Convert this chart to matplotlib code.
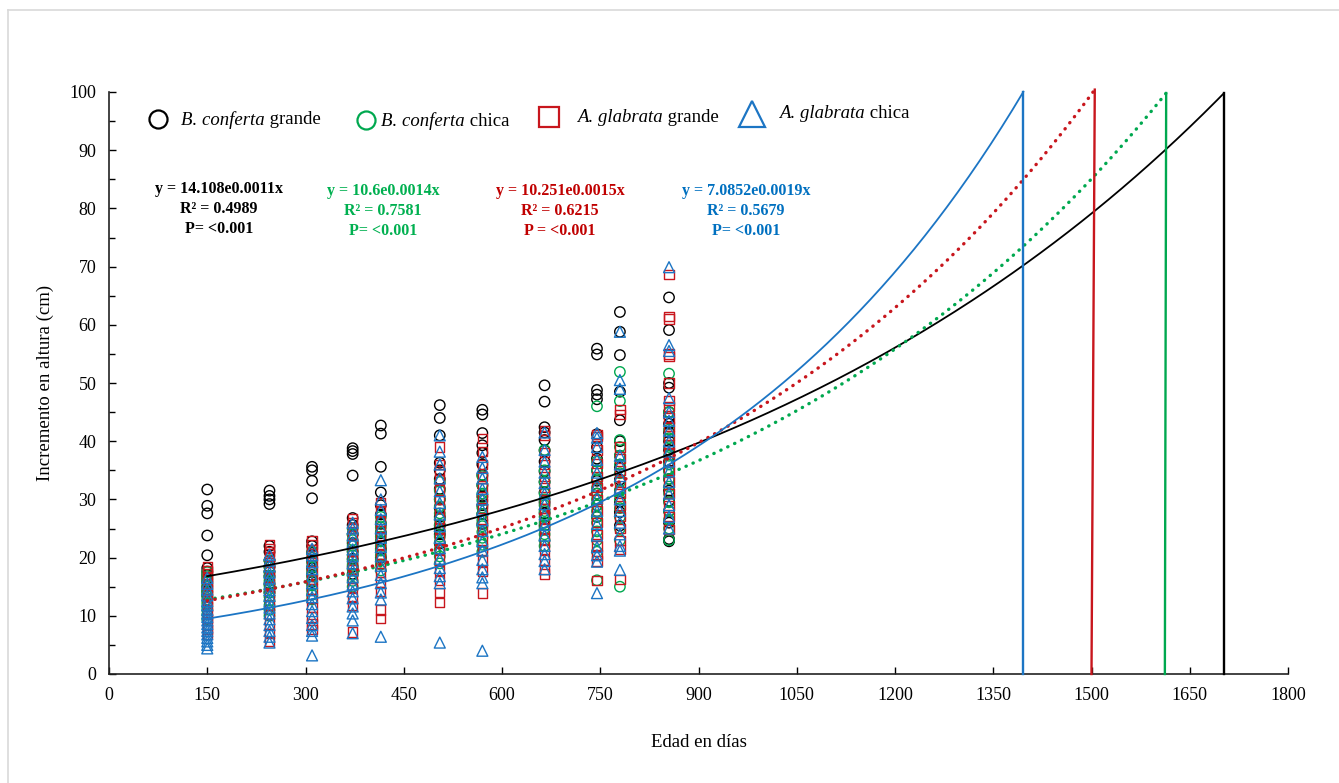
import numpy as np
import matplotlib
matplotlib.use("Agg")
import matplotlib.pyplot as plt
from matplotlib.lines import Line2D

plt.rcParams['font.family'] = ['Liberation Serif', 'DejaVu Serif']

# edad de medicion (dias)
ages = [150, 245, 310, 372, 415, 505, 570, 665, 745, 780, 855]

# B. conferta grande
bcg = [
    [31.7, 28.9, 27.6, 23.8, 20.4, 18.2, 17.6, 17.0, 16.4, 15.8, 15.0, 14.2, 13.5],
    [31.5, 30.6, 30.0, 29.2, 22.0, 21.0, 19.5, 18.4, 17.6, 16.8, 15.5, 14.0],
    [35.6, 35.0, 33.2, 30.2, 22.8, 22.0, 20.8, 19.5, 18.2, 17.0, 15.8],
    [38.8, 38.3, 37.8, 34.1, 26.8, 25.6, 24.0, 22.5, 21.0, 19.8, 18.4, 17.2],
    [42.7, 41.3, 35.6, 31.2, 29.0, 27.4, 25.8, 24.2, 22.8, 21.5, 20.0],
    [46.2, 44.0, 41.0, 36.3, 35.0, 33.5, 31.8, 30.0, 28.5, 27.0, 25.5, 24.0, 22.4],
    [45.4, 44.6, 41.4, 39.3, 38.0, 36.0, 34.2, 32.4, 30.5, 29.0, 27.5, 25.8],
    [49.6, 46.8, 42.4, 41.5, 40.2, 38.4, 36.5, 34.8, 33.0, 31.2, 29.5, 27.6, 25.5],
    [55.9, 54.9, 48.8, 48.0, 47.2, 41.2, 39.0, 37.0, 35.0, 33.2, 31.0, 29.0, 27.0],
    [62.2, 58.8, 54.8, 48.5, 43.6, 40.0, 37.5, 35.5, 33.4, 31.5, 29.6, 27.8, 25.5],
    [64.7, 59.1, 50.0, 49.2, 45.0, 44.2, 43.0, 41.5, 40.0, 38.5, 36.5, 35.0, 33.5,
     31.5, 29.8, 28.0, 26.0, 23.2, 22.8],
]

# B. conferta chica
bcc = [
    [17.5, 16.8, 16.0, 15.3, 14.6, 14.0, 13.4, 12.8, 12.2, 11.6, 11.0, 10.2, 9.4],
    [19.5, 18.4, 17.5, 16.8, 16.0, 15.2, 14.6, 14.0, 13.3, 12.6, 11.8, 11.0, 10.0],
    [21.0, 20.0, 19.2, 18.4, 17.6, 16.8, 16.0, 15.2, 14.4, 13.6, 12.8],
    [25.0, 24.0, 23.0, 22.0, 21.2, 20.4, 19.6, 18.8, 18.0, 17.0, 16.0, 15.0],
    [27.0, 26.0, 25.2, 24.4, 23.6, 22.8, 22.0, 21.2, 20.4, 19.6, 18.8, 17.8],
    [33.0, 31.5, 30.0, 28.8, 27.6, 26.6, 25.6, 24.6, 23.6, 22.6, 21.4, 20.2, 19.0],
    [34.0, 32.5, 31.0, 29.8, 28.6, 27.5, 26.4, 25.4, 24.4, 23.4, 22.2, 21.0],
    [38.5, 35.0, 33.0, 31.0, 30.0, 29.0, 28.0, 27.0, 26.0, 25.0, 24.0, 23.0, 22.0],
    [46.0, 36.5, 35.0, 33.5, 32.0, 31.0, 30.0, 29.0, 28.0, 27.0, 26.0, 24.5, 23.0, 21.0, 16.1],
    [51.9, 46.9, 40.2, 39.0, 37.5, 36.0, 34.5, 33.0, 31.5, 30.0, 28.5, 27.0, 25.0, 23.0, 15.0],
    [51.6, 45.0, 42.0, 40.5, 39.0, 37.5, 36.0, 34.8, 33.5, 32.2, 31.0, 29.5, 28.0,
     26.5, 25.0, 23.0],
]

# A. glabrata grande
agg = [
    [18.4, 17.8, 17.2, 16.5, 15.6, 14.6, 13.6, 12.6, 11.6, 10.6, 9.6, 8.6, 7.6, 6.8],
    [22.2, 21.6, 21.0, 20.2, 19.2, 18.0, 16.6, 15.0, 13.4, 11.8, 10.2, 8.6, 7.0, 5.6],
    [22.9, 22.2, 21.4, 20.4, 19.2, 17.8, 16.2, 14.6, 13.0, 11.4, 9.8, 8.6, 7.6],
    [26.7, 26.0, 25.0, 23.8, 22.4, 21.0, 19.6, 18.0, 16.4, 14.8, 13.2, 11.8, 7.2],
    [29.4, 28.0, 26.2, 25.0, 23.6, 22.2, 20.6, 19.0, 17.4, 15.8, 14.2, 11.0, 9.6],
    [39.0, 36.0, 35.0, 33.4, 31.6, 30.0, 28.4, 26.8, 25.0, 23.2, 21.4, 19.6, 17.8,
     16.0, 14.0, 12.3],
    [40.5, 38.2, 36.0, 34.0, 32.0, 30.2, 28.4, 26.6, 24.8, 23.0, 21.2, 19.4, 17.6, 13.9],
    [41.9, 41.0, 38.0, 36.0, 34.0, 32.0, 30.0, 28.4, 26.8, 25.0, 23.2, 21.4, 19.6, 18.0, 17.2],
    [41.2, 40.8, 38.5, 36.2, 34.0, 32.0, 30.0, 28.0, 26.0, 24.0, 22.0, 20.5, 19.4, 16.0],
    [45.4, 44.6, 39.0, 37.0, 35.0, 33.0, 31.0, 29.0, 27.0, 25.0, 23.0, 21.4, 16.2],
    [68.6, 61.4, 61.0, 55.0, 54.6, 50.0, 47.0, 46.0, 44.0, 42.5, 41.0, 39.5, 38.0,
     36.5, 35.0, 33.0, 31.0, 29.0, 27.0, 24.8],
]

# A. glabrata chica
agc = [
    [16.5, 15.5, 14.5, 13.5, 12.5, 11.8, 11.0, 10.4, 9.8, 9.2, 8.6, 8.0, 7.4, 6.8,
     6.2, 5.6, 5.0, 4.4],
    [20.5, 19.5, 18.5, 17.4, 16.4, 15.4, 14.4, 13.4, 12.4, 11.4, 10.4, 9.4, 8.4, 7.4, 6.4, 5.4],
    [21.5, 20.4, 19.2, 18.0, 16.8, 15.6, 14.4, 13.2, 12.0, 10.8, 9.6, 8.4, 7.4, 6.6, 3.2],
    [26.0, 25.0, 23.8, 22.6, 21.4, 20.2, 19.0, 17.8, 16.6, 15.4, 14.2, 13.0, 11.6,
     10.4, 9.2, 7.0],
    [33.3, 30.0, 28.2, 26.6, 25.0, 23.4, 21.8, 20.2, 18.6, 17.0, 15.6, 14.0, 12.8, 6.4],
    [41.0, 38.2, 36.0, 33.6, 31.4, 29.4, 27.4, 25.4, 23.4, 21.6, 19.8, 18.2, 16.8, 15.6, 5.4],
    [37.3, 35.4, 33.6, 31.8, 30.0, 28.2, 26.4, 24.6, 22.8, 21.2, 19.6, 18.0, 16.6, 15.6, 4.0],
    [41.5, 38.5, 36.5, 34.6, 32.8, 31.0, 29.2, 27.4, 25.6, 23.8, 22.0, 20.6, 19.4, 18.0],
    [41.4, 40.6, 39.0, 36.8, 34.6, 32.4, 30.2, 28.0, 25.8, 23.8, 21.8, 20.4, 19.3, 13.9],
    [58.8, 50.5, 49.0, 37.5, 36.0, 34.0, 32.0, 30.0, 28.0, 26.0, 24.0, 22.0, 21.2, 17.9],
    [69.9, 56.5, 55.5, 47.4, 45.0, 43.5, 41.8, 40.0, 38.2, 36.5, 34.8, 33.0, 31.0,
     29.0, 27.0, 25.0],
]

# ajuste exponencial y = a*exp(b*x) (curvas como se ven en la figura)
fit_a = [14.14, 10.37, 10.01, 7.16]
fit_b = [0.001148, 0.001403, 0.001532, 0.001889]
fit_end = [1702, 1614, 1505, 1396]
drop_x = [1702, 1612, 1500, 1396]

eq_text = [
    "y = 14.108e0.0011x\nR² = 0.4989\nP= <0.001",
    "y = 10.6e0.0014x\nR² = 0.7581\nP= <0.001",
    "y = 10.251e0.0015x\nR² = 0.6215\nP = <0.001",
    "y = 7.0852e0.0019x\nR² = 0.5679\nP= <0.001",
]
sp_names = ["B. conferta", "B. conferta", "A. glabrata", "A. glabrata"]
sizes = [" grande", " chica", " grande", " chica"]

colors = ['#000000', '#00A84F', '#C8161D', '#1C75C4']
txt_colors = ['#000000', '#00B050', '#C00000', '#0070C0']
markers = ['o', 'o', 's', '^']
dotted = (0, (0.1, 2.2))
styles = ['-', dotted, dotted, '-']
widths = [1.3, 2.4, 2.4, 1.3]

W, H = 1339, 783
fig = plt.figure(figsize=(W / 100, H / 100), dpi=100)
ax = fig.add_axes([109 / W, 1 - 674 / H, (1288 - 109) / W, (674 - 92) / H])

for groups, c, m in zip([bcg, bcc, agg, agc], colors, markers):
    xs = np.repeat(ages, [len(g) for g in groups])
    ys = np.concatenate(groups)
    sz = 62 if m == '^' else (44 if m == 's' else 56)
    ax.scatter(xs, ys, s=sz, marker=m, facecolors='none', edgecolors=c,
               linewidths=1.0, zorder=3)

for a, b, xe, xd, c, ls, lw in zip(fit_a, fit_b, fit_end, drop_x, colors, styles, widths):
    xx = np.linspace(150, xe, 300)
    ax.plot(xx, a * np.exp(b * xx), color=c, ls=ls, lw=lw, zorder=4,
            clip_on=False, dash_capstyle='round')
    ax.plot([xe, xd], [a * np.exp(b * xe), 0], color=c, lw=1.7, zorder=4, clip_on=False)

ax.set_xlim(0, 1800)
ax.set_ylim(0, 100)
ax.set_xticks(np.arange(0, 1801, 150))
ax.set_yticks(np.arange(0, 101, 10))
ax.set_yticks(np.arange(0, 101, 5), minor=True)
ax.tick_params(axis='both', which='both', direction='in', labelsize=13, pad=9)
ax.tick_params(axis='both', which='major', length=5, width=1)
ax.tick_params(axis='y', which='minor', length=4, width=1)
ax.spines['top'].set_visible(False)
ax.spines['right'].set_visible(False)
for s in ['left', 'bottom']:
    ax.spines[s].set_linewidth(1.2)
    ax.spines[s].set_color('#222222')

ax.set_xlabel("Edad en días", fontsize=13.5, labelpad=22)
ax.set_ylabel("Incremento en altura (cm)", fontsize=13.5)
ax.yaxis.set_label_coords(-0.047, 0.5)


def fx(px):
    return px / W


def fy(py):
    return 1 - py / H


# leyenda manual
leg_mk = [(158, 119), (366, 120), (549, 117), (752, 114)]
leg_tx = [(181, 120), (381, 121), (577, 117), (779, 114)]
leg_sz = [13, 13, 14, 19]
fig.canvas.draw()
rend = fig.canvas.get_renderer()
for (mx, my), (tx, ty), sp, sz_, c, m, ms in zip(leg_mk, leg_tx, sp_names, sizes,
                                                 colors, markers, leg_sz):
    fig.add_artist(Line2D([fx(mx)], [fy(my)], marker=m, markersize=ms,
                          markerfacecolor='none', markeredgecolor=c,
                          markeredgewidth=1.6, ls='none'))
    t1 = fig.text(fx(tx), fy(ty), sp, fontsize=13.5, style='italic',
                  ha='left', va='center')
    w1 = t1.get_window_extent(renderer=rend).width
    fig.text(fx(tx + w1), fy(ty), sz_, fontsize=13.5, ha='left', va='center')

# ecuaciones
eq_pos = [(219, 209), (383, 211), (560, 211), (746, 211)]
for (ex, ey), t, c in zip(eq_pos, eq_text, txt_colors):
    fig.text(fx(ex), fy(ey), t, fontsize=11.5, fontweight='bold', color=c,
             ha='center', va='center', linespacing=1.32)

# marco gris
fig.add_artist(Line2D([fx(8), fx(W)], [fy(10), fy(10)], color='#d9d9d9', lw=1.2))
fig.add_artist(Line2D([fx(8), fx(8)], [fy(10), 0], color='#d9d9d9', lw=1.2))

fig.savefig("out.png", dpi=100)
